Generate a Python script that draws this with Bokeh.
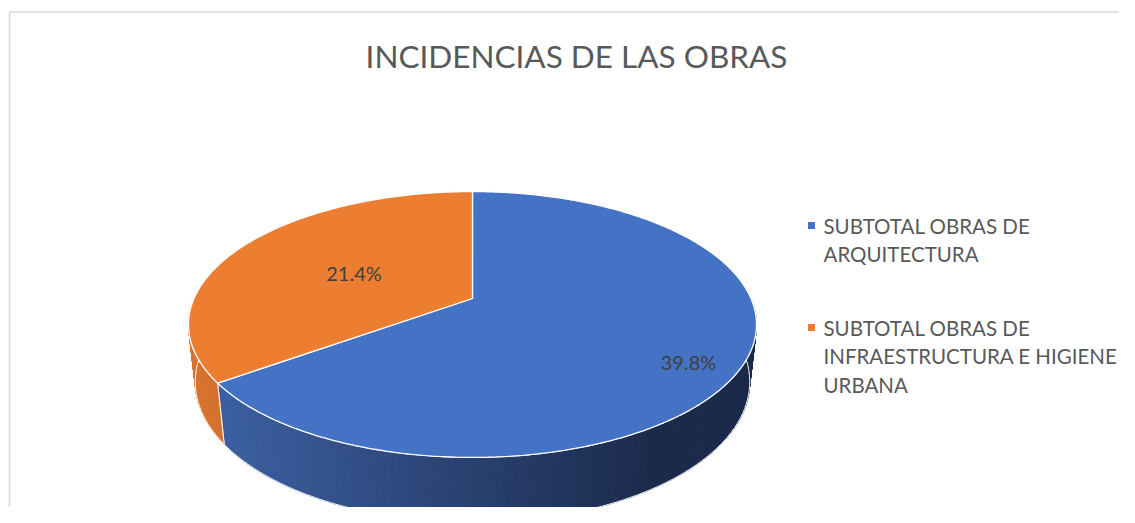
import math
import textwrap
import numpy as np
from bokeh.plotting import figure
from bokeh.models import Range1d
from bokeh.core.properties import value
from bokeh.embed import file_html
from bokeh.resources import INLINE

# ---------------- data ----------------
title_text = "INCIDENCIAS DE LAS OBRAS"
categories = ["SUBTOTAL OBRAS DE ARQUITECTURA",
              "SUBTOTAL OBRAS DE INFRAESTRUCTURA E HIGIENE URBANA"]
values = [39.8, 21.4]
value_labels = ["39.8%", "21.4%"]

# ---------------- style / layout ----------------
W, H = 1119, 507
top_colors = ["#4472C4", "#ED7D31"]
wall_left = [(62, 99, 168), (214, 116, 46)]
wall_right = [(27, 42, 75), (190, 96, 38)]
TEXT_DARK = "#404040"
TEXT_GREY = "#595959"
FONT = "Lato"

CX, CY = 472, 298
SCALE = 278.5           # px per radius at centre depth
ELEV = math.asin(0.459) # camera elevation
DIST = 4.543            # camera distance in radii
THICK = 0.233           # pie thickness in radii

LABEL_XY = [(688, 361), (353.5, 272.5)]
LEG_SQ_X = 811
LEG_TX_X = 823
LEG_Y0 = [225, 327]
LEG_LINE_H = 28.7


def proj(X, Y, Z):
    depth = DIST - Y * math.cos(ELEV) - Z * math.sin(ELEV)
    sx = CX + SCALE * DIST * X / depth
    sy = CY + SCALE * DIST * (Y * math.sin(ELEV) - Z * math.cos(ELEV)) / depth
    return sx, sy


def rim(phi, z):
    # phi: clockwise angle from the back (12 o'clock), radians
    return proj(np.sin(phi), -np.cos(phi), z)


p = figure(width=W, height=H, output_backend="svg", toolbar_location=None,
           x_range=Range1d(0, W), y_range=Range1d(H, 0),
           x_axis_type=None, y_axis_type=None, min_border=0,
           outline_line_color=None, background_fill_color="white",
           border_fill_color="white")
p.grid.visible = False

# chart border (left and top visible)
p.line(x=[9, 9, W + 5], y=[H + 5, 11.5, 11.5], line_color="#D9D9D9", line_width=1.5)

total = sum(values)
fracs = [v / total for v in values]
bounds = np.concatenate([[0.0], np.cumsum(fracs)]) * 2 * math.pi

xmin = CX - SCALE * 1.02
xmax = CX + SCALE * 1.02

# ---- side walls ----
front_lo, front_hi = math.radians(86), math.radians(274)
for i in range(len(values)):
    a0 = max(bounds[i], front_lo)
    a1 = min(bounds[i + 1], front_hi)
    if a1 <= a0:
        continue
    n = max(2, int(math.degrees(a1 - a0) / 0.5))
    ph = np.linspace(a0, a1, n + 1)
    tx, ty = rim(ph, 0.0)
    bx, by = rim(ph, -THICK)
    xs, ys, cols = [], [], []
    for j in range(n):
        xs.append([tx[j], tx[j + 1], bx[j + 1], bx[j]])
        ys.append([ty[j], ty[j + 1], by[j + 1], by[j]])
        xm = 0.5 * (tx[j] + tx[j + 1])
        t = min(1.0, max(0.0, (xm - xmin) / (xmax - xmin) / 0.82))
        c = tuple(int(round(wall_left[i][k] + (wall_right[i][k] - wall_left[i][k]) * t)) for k in range(3))
        cols.append("#%02x%02x%02x" % c)
    p.patches(xs=xs, ys=ys, fill_color=cols, line_color=cols, line_width=1)
    p.patch(x=np.concatenate([tx, bx[::-1]]), y=np.concatenate([ty, by[::-1]]),
            fill_alpha=0, line_color="white", line_width=1)

# ---- top faces ----
for i in range(len(values)):
    n = max(2, int(math.degrees(bounds[i + 1] - bounds[i]) / 0.5))
    ph = np.linspace(bounds[i], bounds[i + 1], n + 1)
    tx, ty = rim(ph, 0.0)
    cx0, cy0 = proj(0.0, 0.0, 0.0)
    p.patch(x=np.concatenate([[cx0], tx]), y=np.concatenate([[cy0], ty]),
            fill_color=top_colors[i], line_color="white", line_width=1.3)

# ---- data labels ----
p.text(x=[xy[0] for xy in LABEL_XY], y=[xy[1] for xy in LABEL_XY], text=value_labels,
       text_align="center", text_baseline="middle", text_color=TEXT_DARK,
       text_font=value(FONT), text_font_size="20px")

# ---- title ----
p.text(x=[576], y=[55.5], text=[title_text], text_align="center",
       text_baseline="middle", text_color=TEXT_GREY, text_font=value(FONT),
       text_font_size="31.5px")

# ---- legend ----
for i, cat in enumerate(categories):
    p.scatter(x=[LEG_SQ_X], y=[LEG_Y0[i]], marker="square", size=7,
              fill_color=top_colors[i], line_color=None)
    lines = textwrap.wrap(cat, width=26)
    p.text(x=[LEG_TX_X] * len(lines), y=[LEG_Y0[i] + j * LEG_LINE_H for j in range(len(lines))],
           text=lines, text_align="left", text_baseline="middle", text_color=TEXT_GREY,
           text_font=value(FONT), text_font_size="20.5px")

open("out.html", "w").write(file_html(p, INLINE))
